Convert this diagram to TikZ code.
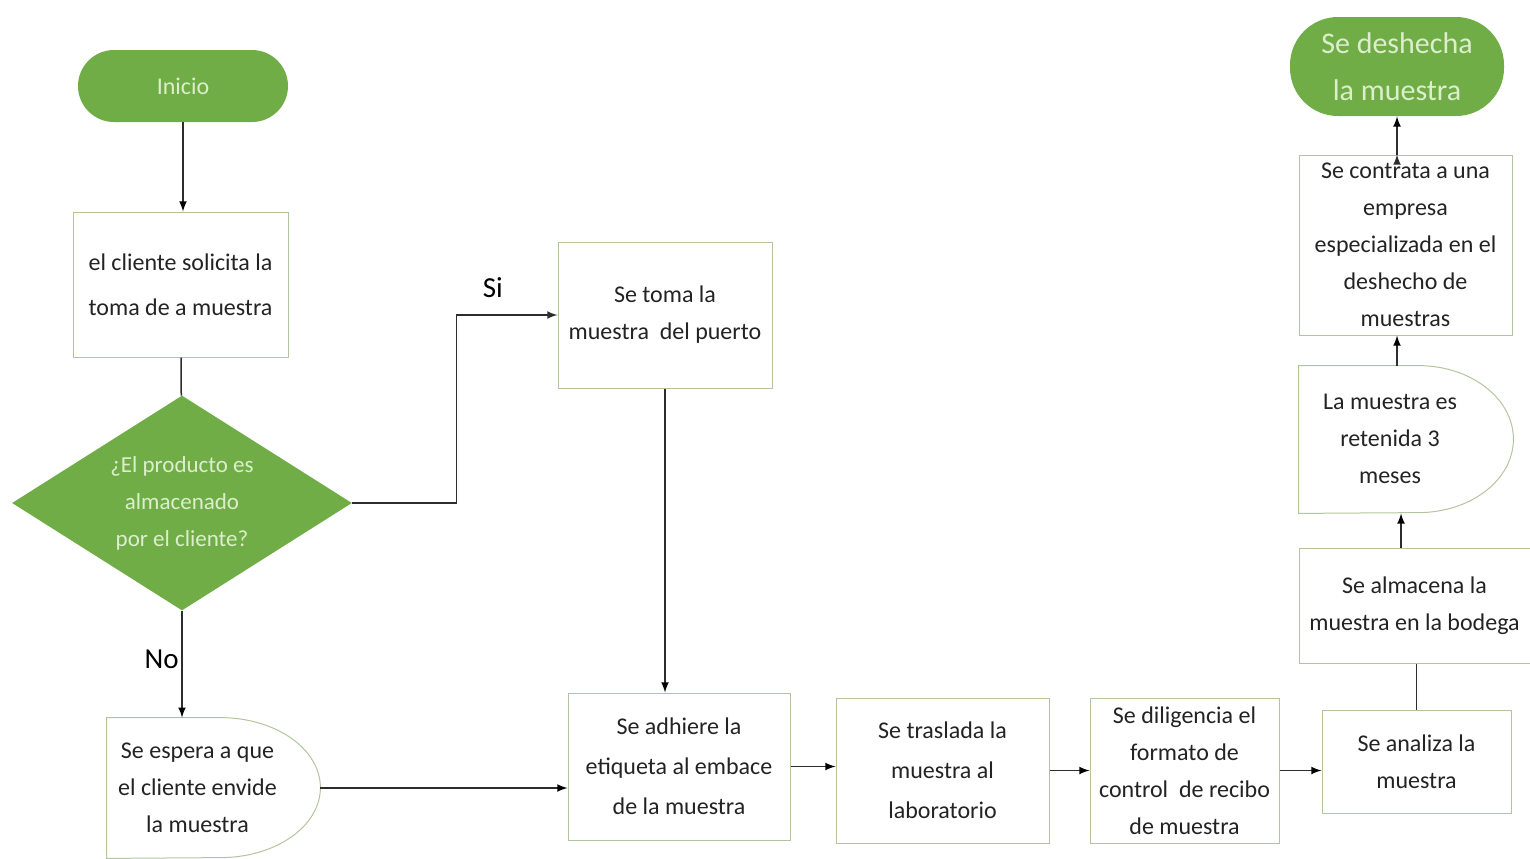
\documentclass[tikz,border=0pt]{standalone}
\usepackage{fontspec}
\setmainfont{Carlito}
\usetikzlibrary{shapes.geometric,arrows}

\definecolor{flowgreen}{RGB}{112,173,71}
\definecolor{palegreen}{RGB}{220,238,204}
\definecolor{edgegreen}{RGB}{178,198,158}
\definecolor{linegray}{RGB}{45,45,45}
\definecolor{textgray}{RGB}{35,35,35}

\tikzset{
  procbox/.style={rectangle, draw=edgegreen, line width=0.5pt, text=textgray, align=center,
    inner sep=1pt, font=\fontsize{12}{18.5}\selectfont},
  termbox/.style={rectangle, fill=flowgreen, text=palegreen, align=center, inner sep=1pt},
  decision/.style={diamond, fill=flowgreen, text=palegreen, align=center, aspect=1.58,
    inner sep=0pt, minimum width=170pt, minimum height=107.5pt, font=\fontsize{11.5}{18.5}\selectfont},
  delaybox/.style={rectangle, text=textgray, inner sep=0pt, font=\fontsize{12}{18.5}\selectfont},
  shapeline/.style={draw=edgegreen, line width=0.5pt},
  flowline/.style={draw=linegray, line width=0.75pt},
  answer/.style={text=black, font=\fontsize{14.5}{17}\selectfont},
}

\begin{document}
\begin{tikzpicture}[x=0.5pt, y=-0.5pt, >=latex]
  \useasboundingbox (0,0) rectangle (1530,858);

  % left column
  \node[termbox, rounded corners=18pt, minimum width=105pt, minimum height=36pt,
    font=\fontsize{12}{14}\selectfont] (inicio) at (183,86) {Inicio};
  \node[procbox, minimum width=107.5pt, minimum height=72.5pt,
    font=\fontsize{12}{22.5}\selectfont] (solicita) at (180.5,284.5)
    {el cliente solicita la\\toma de a muestra};
  \node[decision] (pregunta) at (182,503) {¿El producto es\\almacenado\\por el cliente?};
  \node[delaybox, minimum width=106.5pt, minimum height=70pt] (espera) at (213.5,788)
    {\begin{tabular}{@{}c@{}}Se espera a que\\el cliente envide\\la muestra\end{tabular}\hspace*{16pt}};
  \draw[shapeline] (espera.north west) -- ([xshift=-50pt]espera.north east)
    arc[start angle=90, end angle=-90, x radius=50pt, y radius=35pt] -- (espera.south west) -- cycle;

  % middle and bottom row
  \node[procbox, minimum width=107pt, minimum height=73pt] (toma) at (665,315)
    {Se toma la\\muestra\ \ del puerto};
  \node[procbox, minimum width=111pt, minimum height=73.5pt,
    font=\fontsize{12}{20}\selectfont] (adhiere) at (679,766.5)
    {Se adhiere la\\etiqueta al embace\\de la muestra};
  \node[procbox, minimum width=106.5pt, minimum height=72.5pt,
    font=\fontsize{12}{20}\selectfont] (traslada) at (942.5,770.5)
    {Se traslada la\\muestra al\\laboratorio};
  \node[procbox, minimum width=94.5pt, minimum height=72.5pt] (diligencia) at (1184.5,770.5)
    {Se diligencia el\\formato de\\control\ \ de recibo\\de muestra};
  \node[procbox, minimum width=94.5pt, minimum height=51.5pt] (analiza) at (1416.5,761.5)
    {Se analiza la\\muestra};

  % right column
  \node[procbox, minimum width=115.5pt, minimum height=57.5pt] (almacena) at (1414.5,605.5)
    {Se almacena la\\muestra en la bodega};
  \node[delaybox, minimum width=107pt, minimum height=73.5pt] (retenida) at (1406,439.5)
    {\begin{tabular}{@{}c@{}}La muestra es\\retenida 3\\meses\end{tabular}\hspace*{16pt}};
  \draw[shapeline] (retenida.north west) -- ([xshift=-47.5pt]retenida.north east)
    arc[start angle=90, end angle=-90, x radius=47.5pt, y radius=36.75pt] -- (retenida.south west) -- cycle;
  \node[procbox, minimum width=106.5pt, minimum height=90pt] (contrata) at (1405.5,245)
    {Se contrata a una\\empresa\\especializada en el\\deshecho de\\muestras};
  \node[termbox, rounded corners=24pt, minimum width=107pt, minimum height=49.5pt,
    font=\fontsize{15}{23.5}\selectfont] (deshecha) at (1397,66.5) {Se deshecha\\la muestra};

  % connectors
  \path[flowline, ->]
  (inicio.south) edge (inicio.south |- solicita.north)
  (pregunta.south) edge node[answer, pos=0.45, left=-2pt] {No} (espera.north -| pregunta.south)
  (toma.south) edge (toma.south |- adhiere.north)
  (espera.east) edge (espera.east -| adhiere.west)
  (adhiere.east) edge (adhiere.east -| traslada.west)
  (traslada.east) edge (traslada.east -| diligencia.west)
  (diligencia.east) edge (diligencia.east -| analiza.west)
  ([xshift=-2.5pt]retenida.south |- almacena.north) edge ([xshift=-2.5pt]retenida.south)
  (retenida.north -| deshecha.south) edge (contrata.south -| deshecha.south)
  (contrata.north -| deshecha.south) edge (deshecha.south)
  ;
  \draw[flowline] (solicita) -- (pregunta);
  \draw[flowline] (analiza.north) -- (analiza.north |- almacena.south);
  \draw[flowline, ->] (pregunta.east) -- ++(52pt,0) |- node[answer, pos=0.68, above=5pt] {Si} (toma.west);
\end{tikzpicture}
\end{document}
